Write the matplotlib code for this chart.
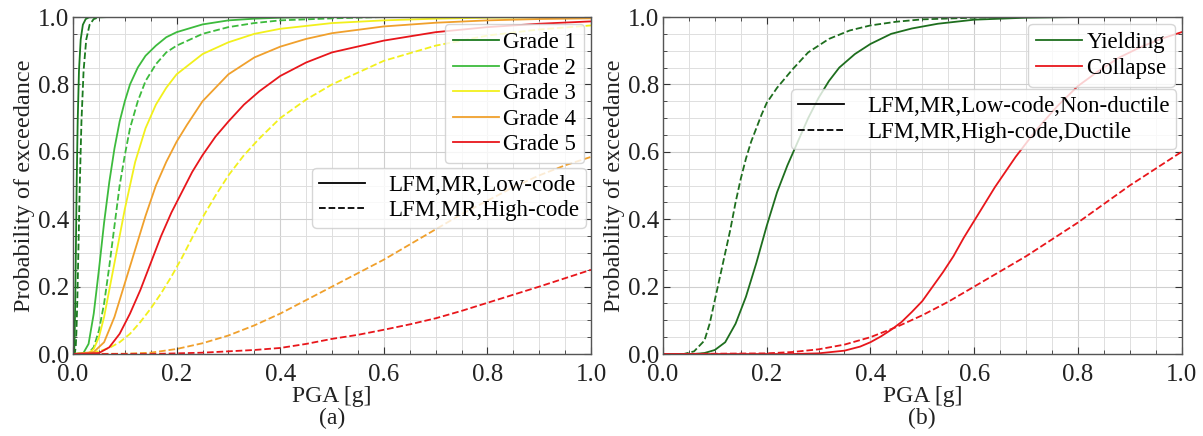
import matplotlib
matplotlib.use("Agg")
import matplotlib.pyplot as plt
from matplotlib.lines import Line2D
from matplotlib.ticker import MultipleLocator

plt.rcParams['font.family'] = ['Liberation Serif', 'DejaVu Serif']
plt.rcParams['font.size'] = 16

# ---------------- Panel (a): damage grades ----------------
g1_low_x = [0, 0.0016, 0.0026, 0.0033, 0.0043, 0.0055, 0.007, 0.009, 0.0115, 0.0148, 0.019, 0.0245, 0.031, 0.05, 1.0]
g1_low_y = [0, 0.001, 0.023, 0.067, 0.159, 0.309, 0.5, 0.691, 0.841, 0.933, 0.977, 0.994, 0.999, 1.0, 1.0]
g1_high_x = [0, 0.0034, 0.0053, 0.0066, 0.0083, 0.0104, 0.013, 0.0163, 0.0204, 0.0255, 0.032, 0.040, 0.050, 0.07, 1.0]
g1_high_y = [0, 0.001, 0.023, 0.067, 0.159, 0.309, 0.5, 0.691, 0.841, 0.933, 0.977, 0.994, 0.999, 1.0, 1.0]

g2_low_x = [0, 0.02, 0.03, 0.04, 0.05, 0.06, 0.07, 0.08, 0.09, 0.1, 0.11, 0.125, 0.14, 0.16, 0.18, 0.2, 0.25, 0.3, 0.35, 0.4, 0.5, 1.0]
g2_low_y = [0, 0.003, 0.03, 0.12, 0.25, 0.39, 0.51, 0.61, 0.69, 0.75, 0.8, 0.85, 0.885, 0.915, 0.94, 0.955, 0.978, 0.99, 0.995, 0.998, 1.0, 1.0]
g2_high_x = [0, 0.03, 0.04, 0.05, 0.06, 0.07, 0.08, 0.09, 0.1, 0.11, 0.125, 0.14, 0.16, 0.18, 0.2, 0.25, 0.3, 0.35, 0.4, 0.5, 0.6, 1.0]
g2_high_y = [0, 0.003, 0.02, 0.07, 0.15, 0.26, 0.38, 0.5, 0.59, 0.67, 0.75, 0.81, 0.86, 0.895, 0.915, 0.95, 0.97, 0.982, 0.99, 0.996, 1.0, 1.0]

g3_low_x = [0, 0.03, 0.04, 0.05, 0.06, 0.07, 0.08, 0.09, 0.1, 0.11, 0.12, 0.13, 0.14, 0.16, 0.18, 0.2, 0.25, 0.3, 0.35, 0.4, 0.5, 0.6, 0.7, 0.8, 1.0]
g3_low_y = [0, 0.002, 0.015, 0.05, 0.11, 0.19, 0.27, 0.35, 0.43, 0.5, 0.57, 0.62, 0.67, 0.74, 0.79, 0.83, 0.89, 0.925, 0.95, 0.965, 0.982, 0.99, 0.995, 0.998, 1.0]
g3_high_x = [0, 0.03, 0.05, 0.07, 0.09, 0.11, 0.13, 0.15, 0.17, 0.19, 0.21, 0.23, 0.25, 0.275, 0.3, 0.33, 0.36, 0.4, 0.45, 0.5, 0.6, 0.7, 0.8, 0.9, 1.0]
g3_high_y = [0, 0.002, 0.008, 0.018, 0.035, 0.06, 0.095, 0.135, 0.18, 0.23, 0.285, 0.345, 0.405, 0.47, 0.53, 0.59, 0.64, 0.7, 0.755, 0.8, 0.87, 0.915, 0.945, 0.963, 0.975]

g4_low_x = [0, 0.04, 0.06, 0.08, 0.1, 0.12, 0.14, 0.16, 0.18, 0.2, 0.22, 0.25, 0.3, 0.35, 0.4, 0.45, 0.5, 0.6, 0.7, 0.8, 0.9, 1.0]
g4_low_y = [0, 0.006, 0.035, 0.11, 0.21, 0.31, 0.41, 0.5, 0.57, 0.63, 0.68, 0.75, 0.83, 0.88, 0.912, 0.935, 0.952, 0.972, 0.983, 0.99, 0.994, 0.996]
g4_high_x = [0, 0.1, 0.15, 0.2, 0.25, 0.3, 0.35, 0.4, 0.45, 0.5, 0.55, 0.6, 0.65, 0.7, 0.75, 0.8, 0.85, 0.9, 0.95, 1.0]
g4_high_y = [0, 0.001, 0.004, 0.015, 0.032, 0.055, 0.085, 0.12, 0.16, 0.2, 0.24, 0.28, 0.325, 0.37, 0.415, 0.455, 0.495, 0.53, 0.56, 0.585]

g5_low_x = [0, 0.05, 0.07, 0.09, 0.11, 0.13, 0.15, 0.17, 0.19, 0.21, 0.23, 0.25, 0.275, 0.3, 0.33, 0.36, 0.4, 0.45, 0.5, 0.6, 0.7, 0.8, 0.9, 1.0]
g5_low_y = [0, 0.003, 0.02, 0.06, 0.12, 0.19, 0.27, 0.35, 0.42, 0.48, 0.54, 0.59, 0.645, 0.69, 0.74, 0.78, 0.825, 0.865, 0.895, 0.93, 0.955, 0.97, 0.98, 0.987]
g5_high_x = [0, 0.15, 0.2, 0.25, 0.3, 0.35, 0.4, 0.45, 0.5, 0.55, 0.6, 0.65, 0.7, 0.75, 0.8, 0.85, 0.9, 0.95, 1.0]
g5_high_y = [0, 0.0, 0.002, 0.004, 0.008, 0.012, 0.018, 0.03, 0.045, 0.057, 0.072, 0.088, 0.106, 0.128, 0.152, 0.176, 0.2, 0.225, 0.25]

grade_labels = ['Grade 1', 'Grade 2', 'Grade 3', 'Grade 4', 'Grade 5']
grade_colors = ['#1b7a1f', '#3dbb3d', '#f2f01c', '#f0a02c', '#e8161b']

# ---------------- Panel (b): yielding / collapse ----------------
yield_low_x = [0, 0.06, 0.08, 0.1, 0.12, 0.14, 0.16, 0.18, 0.2, 0.22, 0.24, 0.26, 0.28, 0.3, 0.32, 0.34, 0.37, 0.4, 0.44, 0.48, 0.53, 0.6, 0.7, 0.8, 1.0]
yield_low_y = [0, 0.0, 0.003, 0.012, 0.035, 0.09, 0.17, 0.27, 0.38, 0.48, 0.56, 0.63, 0.7, 0.76, 0.81, 0.85, 0.89, 0.92, 0.95, 0.966, 0.98, 0.992, 0.998, 1.0, 1.0]
yield_high_x = [0, 0.04, 0.06, 0.08, 0.09, 0.1, 0.11, 0.12, 0.13, 0.14, 0.15, 0.16, 0.17, 0.18, 0.19, 0.2, 0.22, 0.25, 0.28, 0.32, 0.36, 0.4, 0.45, 0.5, 0.6, 0.7, 1.0]
yield_high_y = [0, 0.0, 0.008, 0.04, 0.09, 0.16, 0.23, 0.3, 0.37, 0.45, 0.52, 0.58, 0.63, 0.67, 0.71, 0.745, 0.79, 0.845, 0.895, 0.935, 0.96, 0.975, 0.986, 0.993, 0.998, 1.0, 1.0]

coll_low_x = [0, 0.25, 0.3, 0.35, 0.38, 0.4, 0.42, 0.44, 0.46, 0.48, 0.5, 0.52, 0.54, 0.56, 0.58, 0.6, 0.62, 0.64, 0.66, 0.68, 0.7, 0.72, 0.74, 0.76, 0.78, 0.8, 0.84, 0.88, 0.92, 0.96, 1.0]
coll_low_y = [0, 0.0, 0.002, 0.01, 0.022, 0.035, 0.052, 0.072, 0.095, 0.125, 0.157, 0.2, 0.243, 0.29, 0.345, 0.395, 0.445, 0.495, 0.54, 0.585, 0.625, 0.665, 0.7, 0.735, 0.765, 0.795, 0.84, 0.88, 0.91, 0.935, 0.955]
coll_high_x = [0, 0.2, 0.25, 0.3, 0.35, 0.4, 0.45, 0.5, 0.55, 0.6, 0.65, 0.7, 0.75, 0.8, 0.85, 0.9, 0.95, 1.0]
coll_high_y = [0, 0.002, 0.006, 0.014, 0.028, 0.05, 0.08, 0.115, 0.155, 0.2, 0.245, 0.29, 0.34, 0.39, 0.445, 0.5, 0.55, 0.6]

state_labels = ['Yielding', 'Collapse']
state_colors = ['#1e6e1e', '#e8161b']

style_labels_a = ['LFM,MR,Low-code', 'LFM,MR,High-code']
style_labels_b = ['LFM,MR,Low-code,Non-ductile', 'LFM,MR,High-code,Ductile']

fig = plt.figure(figsize=(12.03, 4.36), dpi=100)
ax1 = fig.add_axes([0.0607, 0.188, 0.4306, 0.773])
ax2 = fig.add_axes([0.5511, 0.188, 0.4311, 0.773])

lw = 1.3
low_a = [(g1_low_x, g1_low_y), (g2_low_x, g2_low_y), (g3_low_x, g3_low_y), (g4_low_x, g4_low_y), (g5_low_x, g5_low_y)]
high_a = [(g1_high_x, g1_high_y), (g2_high_x, g2_high_y), (g3_high_x, g3_high_y), (g4_high_x, g4_high_y), (g5_high_x, g5_high_y)]
for (lx, ly), (hx, hy), c in zip(low_a, high_a, grade_colors):
    ax1.plot(lx, ly, color=c, lw=lw, ls='-')
    ax1.plot(hx, hy, color=c, lw=lw, ls='--')

low_b = [(yield_low_x, yield_low_y), (coll_low_x, coll_low_y)]
high_b = [(yield_high_x, yield_high_y), (coll_high_x, coll_high_y)]
for (lx, ly), (hx, hy), c in zip(low_b, high_b, state_colors):
    ax2.plot(lx, ly, color=c, lw=lw, ls='-')
    ax2.plot(hx, hy, color=c, lw=lw, ls='--')

for ax, lab in [(ax1, '(a)'), (ax2, '(b)')]:
    ax.set_xlim(0, 1)
    ax.set_ylim(0, 1)
    ax.xaxis.set_major_locator(MultipleLocator(0.2))
    ax.yaxis.set_major_locator(MultipleLocator(0.2))
    ax.xaxis.set_minor_locator(MultipleLocator(0.05))
    ax.yaxis.set_minor_locator(MultipleLocator(0.05))
    ax.grid(True, which='major', color='#cfcfcf', lw=0.8)
    ax.grid(True, which='minor', color='#dedede', lw=0.7)
    ax.set_axisbelow(True)
    ax.tick_params(which='both', direction='in', top=True, right=True, labelsize=18, colors='#333333', labelcolor='#222222')
    ax.tick_params(which='major', length=5)
    ax.tick_params(which='minor', length=3)
    ax.tick_params(axis='x', pad=7)
    ax.tick_params(axis='y', pad=3)
    ax.set_xticks([0, 0.2, 0.4, 0.6, 0.8, 1.0])
    ax.set_xticklabels(['0.0', '0.2', '0.4', '0.6', '0.8', '1.0'])
    ax.set_yticks([0, 0.2, 0.4, 0.6, 0.8, 1.0])
    ax.set_yticklabels(['0.0', '0.2', '0.4', '0.6', '0.8', '1.0'])
    for s in ax.spines.values():
        s.set_color('#555555')
        s.set_linewidth(1.0)
    ax.set_ylabel('Probability of exceedance', fontsize=17.5, labelpad=2, color='#222222')
    ax.set_xlabel('PGA [g]\n' + lab, fontsize=17, labelpad=0, color='#222222', linespacing=1.05)

# legends panel (a)
h_grades = [Line2D([], [], color=c, lw=lw) for c in grade_colors]
leg1 = ax1.legend(h_grades, grade_labels, loc='upper right', fontsize=16.5, handlelength=2.0,
                  handletextpad=0.2, borderpad=0.35, labelspacing=0.2, borderaxespad=0.3)
ax1.add_artist(leg1)
h_styles = [Line2D([], [], color='k', lw=lw, ls='-'), Line2D([], [], color='k', lw=lw, ls='--')]
ax1.legend(h_styles, style_labels_a, loc='lower right', bbox_to_anchor=(0.99, 0.375), fontsize=16.5,
           handlelength=2.0, handletextpad=1.0, borderpad=0.3, labelspacing=0.18, borderaxespad=0.0)

# legends panel (b)
h_states = [Line2D([], [], color=c, lw=lw) for c in state_colors]
leg3 = ax2.legend(h_states, state_labels, loc='upper right', fontsize=16.5, handlelength=2.0,
                  handletextpad=0.2, borderpad=0.35, labelspacing=0.2, borderaxespad=0.3)
ax2.add_artist(leg3)
ax2.legend(h_styles, style_labels_b, loc='upper right', bbox_to_anchor=(0.99, 0.785), fontsize=16.5,
           handlelength=2.0, handletextpad=1.0, borderpad=0.3, labelspacing=0.18, borderaxespad=0.0)

fig.savefig('out.png', dpi=100)
